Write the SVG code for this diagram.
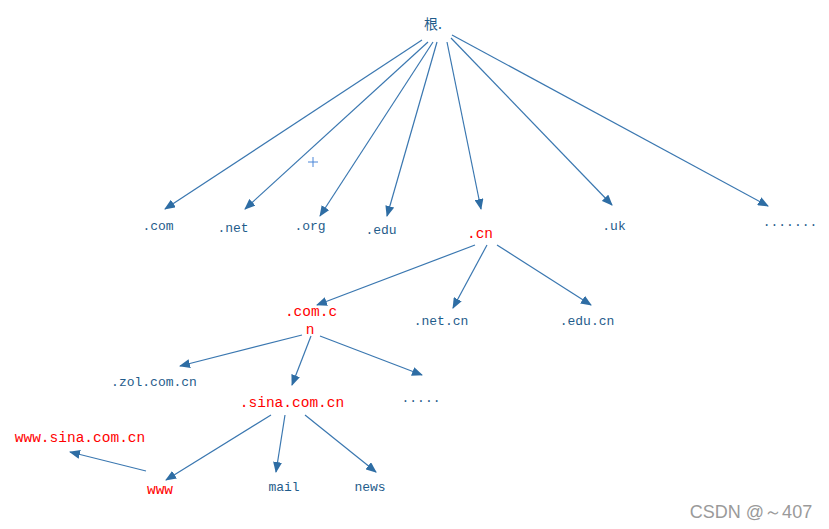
<svg xmlns="http://www.w3.org/2000/svg" width="829" height="529" viewBox="0 0 829 529">
<style>
.e{stroke:#3a77b0;stroke-width:1.2;fill:none;marker-end:url(#ah)}
.b{font-family:"Liberation Mono",monospace;font-size:13px;fill:#1f5c8b;text-anchor:middle}
.r{font-family:"Liberation Mono",monospace;font-size:14.5px;fill:#ff0000;text-anchor:middle}
</style>
<defs>
<marker id="ah" markerUnits="userSpaceOnUse" markerWidth="11" markerHeight="9" viewBox="0 0 11 9" refX="10" refY="4.5" orient="auto">
<path d="M0,0 L11,4.5 L0,9 Z" fill="#2e6da4"/>
</marker>
</defs>
<rect width="829" height="529" fill="#ffffff"/>
<g id="connectors">
<line class="e" x1="422" y1="40" x2="165" y2="209"/>
<line class="e" x1="428" y1="42" x2="245" y2="209"/>
<line class="e" x1="433" y1="42" x2="320" y2="216"/>
<line class="e" x1="437" y1="42" x2="387" y2="216"/>
<line class="e" x1="447" y1="42" x2="481" y2="209"/>
<line class="e" x1="451" y1="38" x2="612" y2="205"/>
<line class="e" x1="452" y1="35" x2="768" y2="206"/>
<line class="e" x1="475" y1="245" x2="317" y2="305"/>
<line class="e" x1="487" y1="245" x2="453" y2="308"/>
<line class="e" x1="497" y1="245" x2="591" y2="305"/>
<line class="e" x1="302" y1="335" x2="180" y2="366"/>
<line class="e" x1="311" y1="336" x2="292" y2="385"/>
<line class="e" x1="320" y1="336" x2="422" y2="375"/>
<line class="e" x1="271" y1="415" x2="166" y2="480"/>
<line class="e" x1="285" y1="415" x2="276" y2="472"/>
<line class="e" x1="305" y1="415" x2="376" y2="472"/>
<line class="e" x1="146" y1="471" x2="70" y2="452"/>
</g>
<g id="cursor" stroke="#4a86d8" stroke-width="1">
<line x1="308" y1="162" x2="318" y2="162"/>
<line x1="313" y1="157" x2="313" y2="167"/>
</g>
<g id="root"><text x="433" y="29" font-family="'Noto Sans CJK SC',sans-serif" font-size="14" fill="#1f5c8b" text-anchor="middle">根.</text></g>
<g id="com"><text class="b" x="158" y="230">.com</text></g>
<g id="net"><text class="b" x="233" y="232">.net</text></g>
<g id="org"><text class="b" x="310" y="230">.org</text></g>
<g id="edu"><text class="b" x="381" y="234">.edu</text></g>
<g id="cn"><text class="r" x="480" y="238">.cn</text></g>
<g id="uk"><text class="b" x="614" y="230">.uk</text></g>
<g id="more1"><text class="b" x="790" y="226">.......</text></g>
<g id="comcn"><text class="r" x="311" y="316">.com.c</text><text class="r" x="310" y="334">n</text></g>
<g id="netcn"><text class="b" x="441" y="325">.net.cn</text></g>
<g id="educn"><text class="b" x="587" y="325">.edu.cn</text></g>
<g id="zol"><text class="b" x="154" y="386">.zol.com.cn</text></g>
<g id="sina"><text class="r" x="292" y="407">.sina.com.cn</text></g>
<g id="more2"><text class="b" x="421" y="402">.....</text></g>
<g id="wwwfull"><text class="r" x="80" y="442" font-size="14">www.sina.com.cn</text></g>
<g id="www"><text class="r" x="160" y="494" font-size="13">www</text></g>
<g id="mail"><text class="b" x="284" y="491">mail</text></g>
<g id="news"><text class="b" x="370" y="491">news</text></g>
<text x="751" y="518" font-family="'Liberation Sans',sans-serif" font-size="18" fill="#9a9a9a" text-anchor="middle">CSDN @～407</text>
</svg>
